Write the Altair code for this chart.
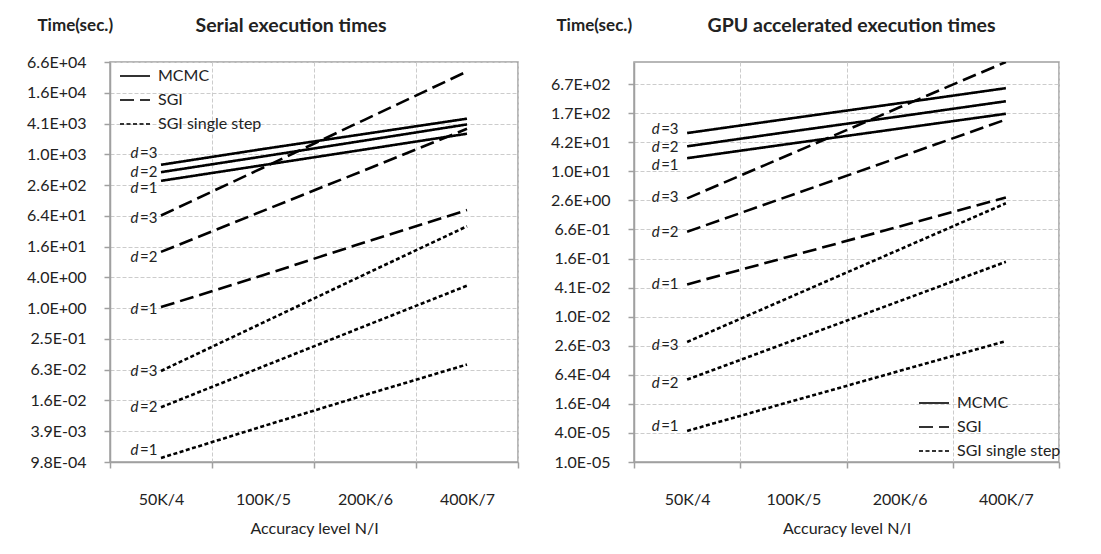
import altair as alt
import pandas as pd

categories = ["50K/4", "100K/5", "200K/6", "400K/7"]
methods = ["MCMC", "SGI", "SGI single step"]

# Serial execution times (seconds)
serial_mcmc_d1 = [310, 628, 1275, 2590]
serial_mcmc_d2 = [458, 930, 1910, 3940]
serial_mcmc_d3 = [639, 1300, 2570, 5100]
serial_sgi_d1 = [1.05, 4.4, 19.5, 83]
serial_sgi_d2 = [12.6, 80, 505, 3230]
serial_sgi_d3 = [65, 560, 4900, 42700]
serial_ss_d1 = [0.00117, 0.0049, 0.0200, 0.079]
serial_ss_d2 = [0.0115, 0.072, 0.447, 2.75]
serial_ss_d3 = [0.059, 0.52, 4.6, 40]

# GPU accelerated execution times (seconds)
gpu_mcmc_d1 = [19.6, 39.9, 80.6, 163]
gpu_mcmc_d2 = [34.5, 71, 144, 296]
gpu_mcmc_d3 = [65, 133, 270, 553]
gpu_sgi_d1 = [0.0477, 0.19, 0.755, 3.01]
gpu_sgi_d2 = [0.587, 3.48, 20.6, 123.7]
gpu_sgi_d3 = [2.89, 25.2, 222, 1925]
gpu_ss_d1 = [0.000044, 0.000185, 0.00077, 0.0032]
gpu_ss_d2 = [0.00051, 0.00331, 0.0215, 0.140]
gpu_ss_d3 = [0.00306, 0.0278, 0.252, 2.28]

serial_ticks = [0.0009765625, 0.00390625, 0.015625, 0.0625, 0.25, 1, 4, 16, 64,
                256, 1024, 4096, 16384, 65536]
serial_tick_labels = ["9.8E-04", "3.9E-03", "1.6E-02", "6.3E-02", "2.5E-01", "1.0E+00",
                      "4.0E+00", "1.6E+01", "6.4E+01", "2.6E+02", "1.0E+03", "4.1E+03",
                      "1.6E+04", "6.6E+04"]
gpu_ticks = [1e-05, 4e-05, 0.00016, 0.00064, 0.00256, 0.01024, 0.04096, 0.16384,
             0.65536, 2.62144, 10.48576, 41.94304, 167.77216, 671.08864]
gpu_tick_labels = ["1.0E-05", "4.0E-05", "1.6E-04", "6.4E-04", "2.6E-03", "1.0E-02",
                   "4.1E-02", "1.6E-01", "6.6E-01", "2.6E+00", "1.0E+01", "4.2E+01",
                   "1.7E+02", "6.7E+02"]
serial_domain = [0.0009765625, 65536]
gpu_domain = [1e-05, 1925]

FONT = "Lato"


def build_df(series):
    rows = []
    for method, d, vals in series:
        for c, v in zip(categories, vals):
            rows.append({"method": method, "d": d, "cat": c, "value": v})
    return pd.DataFrame(rows)


serial_df = build_df([
    ("MCMC", 1, serial_mcmc_d1), ("MCMC", 2, serial_mcmc_d2), ("MCMC", 3, serial_mcmc_d3),
    ("SGI", 1, serial_sgi_d1), ("SGI", 2, serial_sgi_d2), ("SGI", 3, serial_sgi_d3),
    ("SGI single step", 1, serial_ss_d1), ("SGI single step", 2, serial_ss_d2),
    ("SGI single step", 3, serial_ss_d3),
])
gpu_df = build_df([
    ("MCMC", 1, gpu_mcmc_d1), ("MCMC", 2, gpu_mcmc_d2), ("MCMC", 3, gpu_mcmc_d3),
    ("SGI", 1, gpu_sgi_d1), ("SGI", 2, gpu_sgi_d2), ("SGI", 3, gpu_sgi_d3),
    ("SGI single step", 1, gpu_ss_d1), ("SGI single step", 2, gpu_ss_d2),
    ("SGI single step", 3, gpu_ss_d3),
])

# label pixel offsets (style only)
serial_label_dy = {("MCMC", 3): -12, ("MCMC", 2): 0, ("MCMC", 1): 7,
                   ("SGI", 3): 2, ("SGI", 2): 5, ("SGI", 1): 2,
                   ("SGI single step", 3): 0, ("SGI single step", 2): 0,
                   ("SGI single step", 1): -8}
gpu_label_dy = {("MCMC", 3): -4, ("MCMC", 2): 1, ("MCMC", 1): 7,
                ("SGI", 3): -1, ("SGI", 2): 0, ("SGI", 1): 0,
                ("SGI single step", 3): 3, ("SGI single step", 2): 3,
                ("SGI single step", 1): -5}


def panel(df, ticks, tick_labels, domain, title, title_dx, width, height,
          ytitle_x, legend_x, legend_y, label_gap, label_dy):
    label_expr = "[" + ",".join("'%s'" % s for s in tick_labels) + "][indexof([" + \
        ",".join(repr(t) for t in ticks) + "], datum.value)]"
    xenc = alt.X("cat:N", sort=categories, bandPosition=0.5,
                 scale=alt.Scale(type="band", domain=categories, paddingInner=0, paddingOuter=0),
                 axis=alt.Axis(title="Accuracy level N/I", tickBand="extent", labelAngle=0,
                               labelPadding=23, titlePadding=13, grid=True))
    yenc = alt.Y("value:Q",
                 scale=alt.Scale(type="log", base=4, domain=domain, nice=False, zero=False),
                 axis=alt.Axis(values=ticks, labelExpr=label_expr, title="Time(sec.)",
                               titleAngle=0, titleX=ytitle_x, titleY=-37, titleAlign="left",
                               titleBaseline="middle", labelPadding=18, grid=True))
    lines = alt.Chart(df).mark_line(color="black", strokeWidth=2.6, clip=True).encode(
        x=xenc, y=yenc,
        strokeDash=alt.StrokeDash(
            "method:N", sort=methods,
            scale=alt.Scale(domain=methods, range=[[1, 0], [14, 6], [4, 2.5]]),
            legend=alt.Legend(title=None, orient="none", legendX=legend_x, legendY=legend_y,
                              symbolType="stroke", symbolSize=900, symbolStrokeWidth=2,
                              symbolStrokeColor="#333", labelFontSize=16, labelFont=FONT,
                              labelColor="#222", rowPadding=0, labelOffset=7)),
        detail="d:N",
    )
    layers = [lines]
    first = df[df["cat"] == categories[0]]
    split = -(label_gap + 16)
    for (method, d), dy in label_dy.items():
        sub = first[(first["method"] == method) & (first["d"] == d)].assign(eq="=%d" % d)
        base = alt.Chart(sub).encode(
            x=alt.X("cat:N", sort=categories, bandPosition=0.5),
            y=alt.Y("value:Q"))
        layers.append(base.mark_text(text="d", font=FONT, fontSize=15, fontStyle="italic",
                                     align="right", baseline="middle", dx=split - 1.5, dy=dy,
                                     color="#222"))
        layers.append(base.mark_text(font=FONT, fontSize=15, align="left",
                                     baseline="middle", dx=split, dy=dy,
                                     color="#222").encode(text="eq:N"))
    return alt.layer(*layers).properties(
        width=width, height=height,
        title=alt.TitleParams(title, fontSize=19.5, fontWeight="bold", font=FONT,
                              anchor="middle", dx=title_dx, offset=-39, frame="group",
                              baseline="bottom", color="#222"),
    )


left = panel(serial_df, serial_ticks, serial_tick_labels, serial_domain,
             "Serial execution times", -23, 408, 400, -73, 9, -2, 5, serial_label_dy)
right = panel(gpu_df, gpu_ticks, gpu_tick_labels, gpu_domain,
              "GPU accelerated execution times", 5, 425, 400, -78, 284, 325, 10, gpu_label_dy)

chart = alt.hconcat(left, right, spacing=29).resolve_scale(
    strokeDash="independent", y="independent", x="independent"
).resolve_legend(strokeDash="independent").configure(
    background="white",
    padding={"left": 25, "top": 14, "right": 5, "bottom": 5},
).configure_view(
    stroke="#a0a0a0", strokeWidth=1.5,
).configure_axis(
    labelFont=FONT, labelFontSize=16, labelColor="#222",
    titleFont=FONT, titleFontSize=16, titleColor="#222", titleFontWeight="normal",
    gridColor="#cccccc", gridDash=[4, 2], gridWidth=1,
    domainColor="#a0a0a0", domainWidth=1.5, tickColor="#a0a0a0", tickSize=6, tickWidth=1.5,
).configure_axisY(
    titleFontWeight="bold", titleFontSize=17,
)

chart.save("out.html", embed_options={"renderer": "svg", "actions": False})
